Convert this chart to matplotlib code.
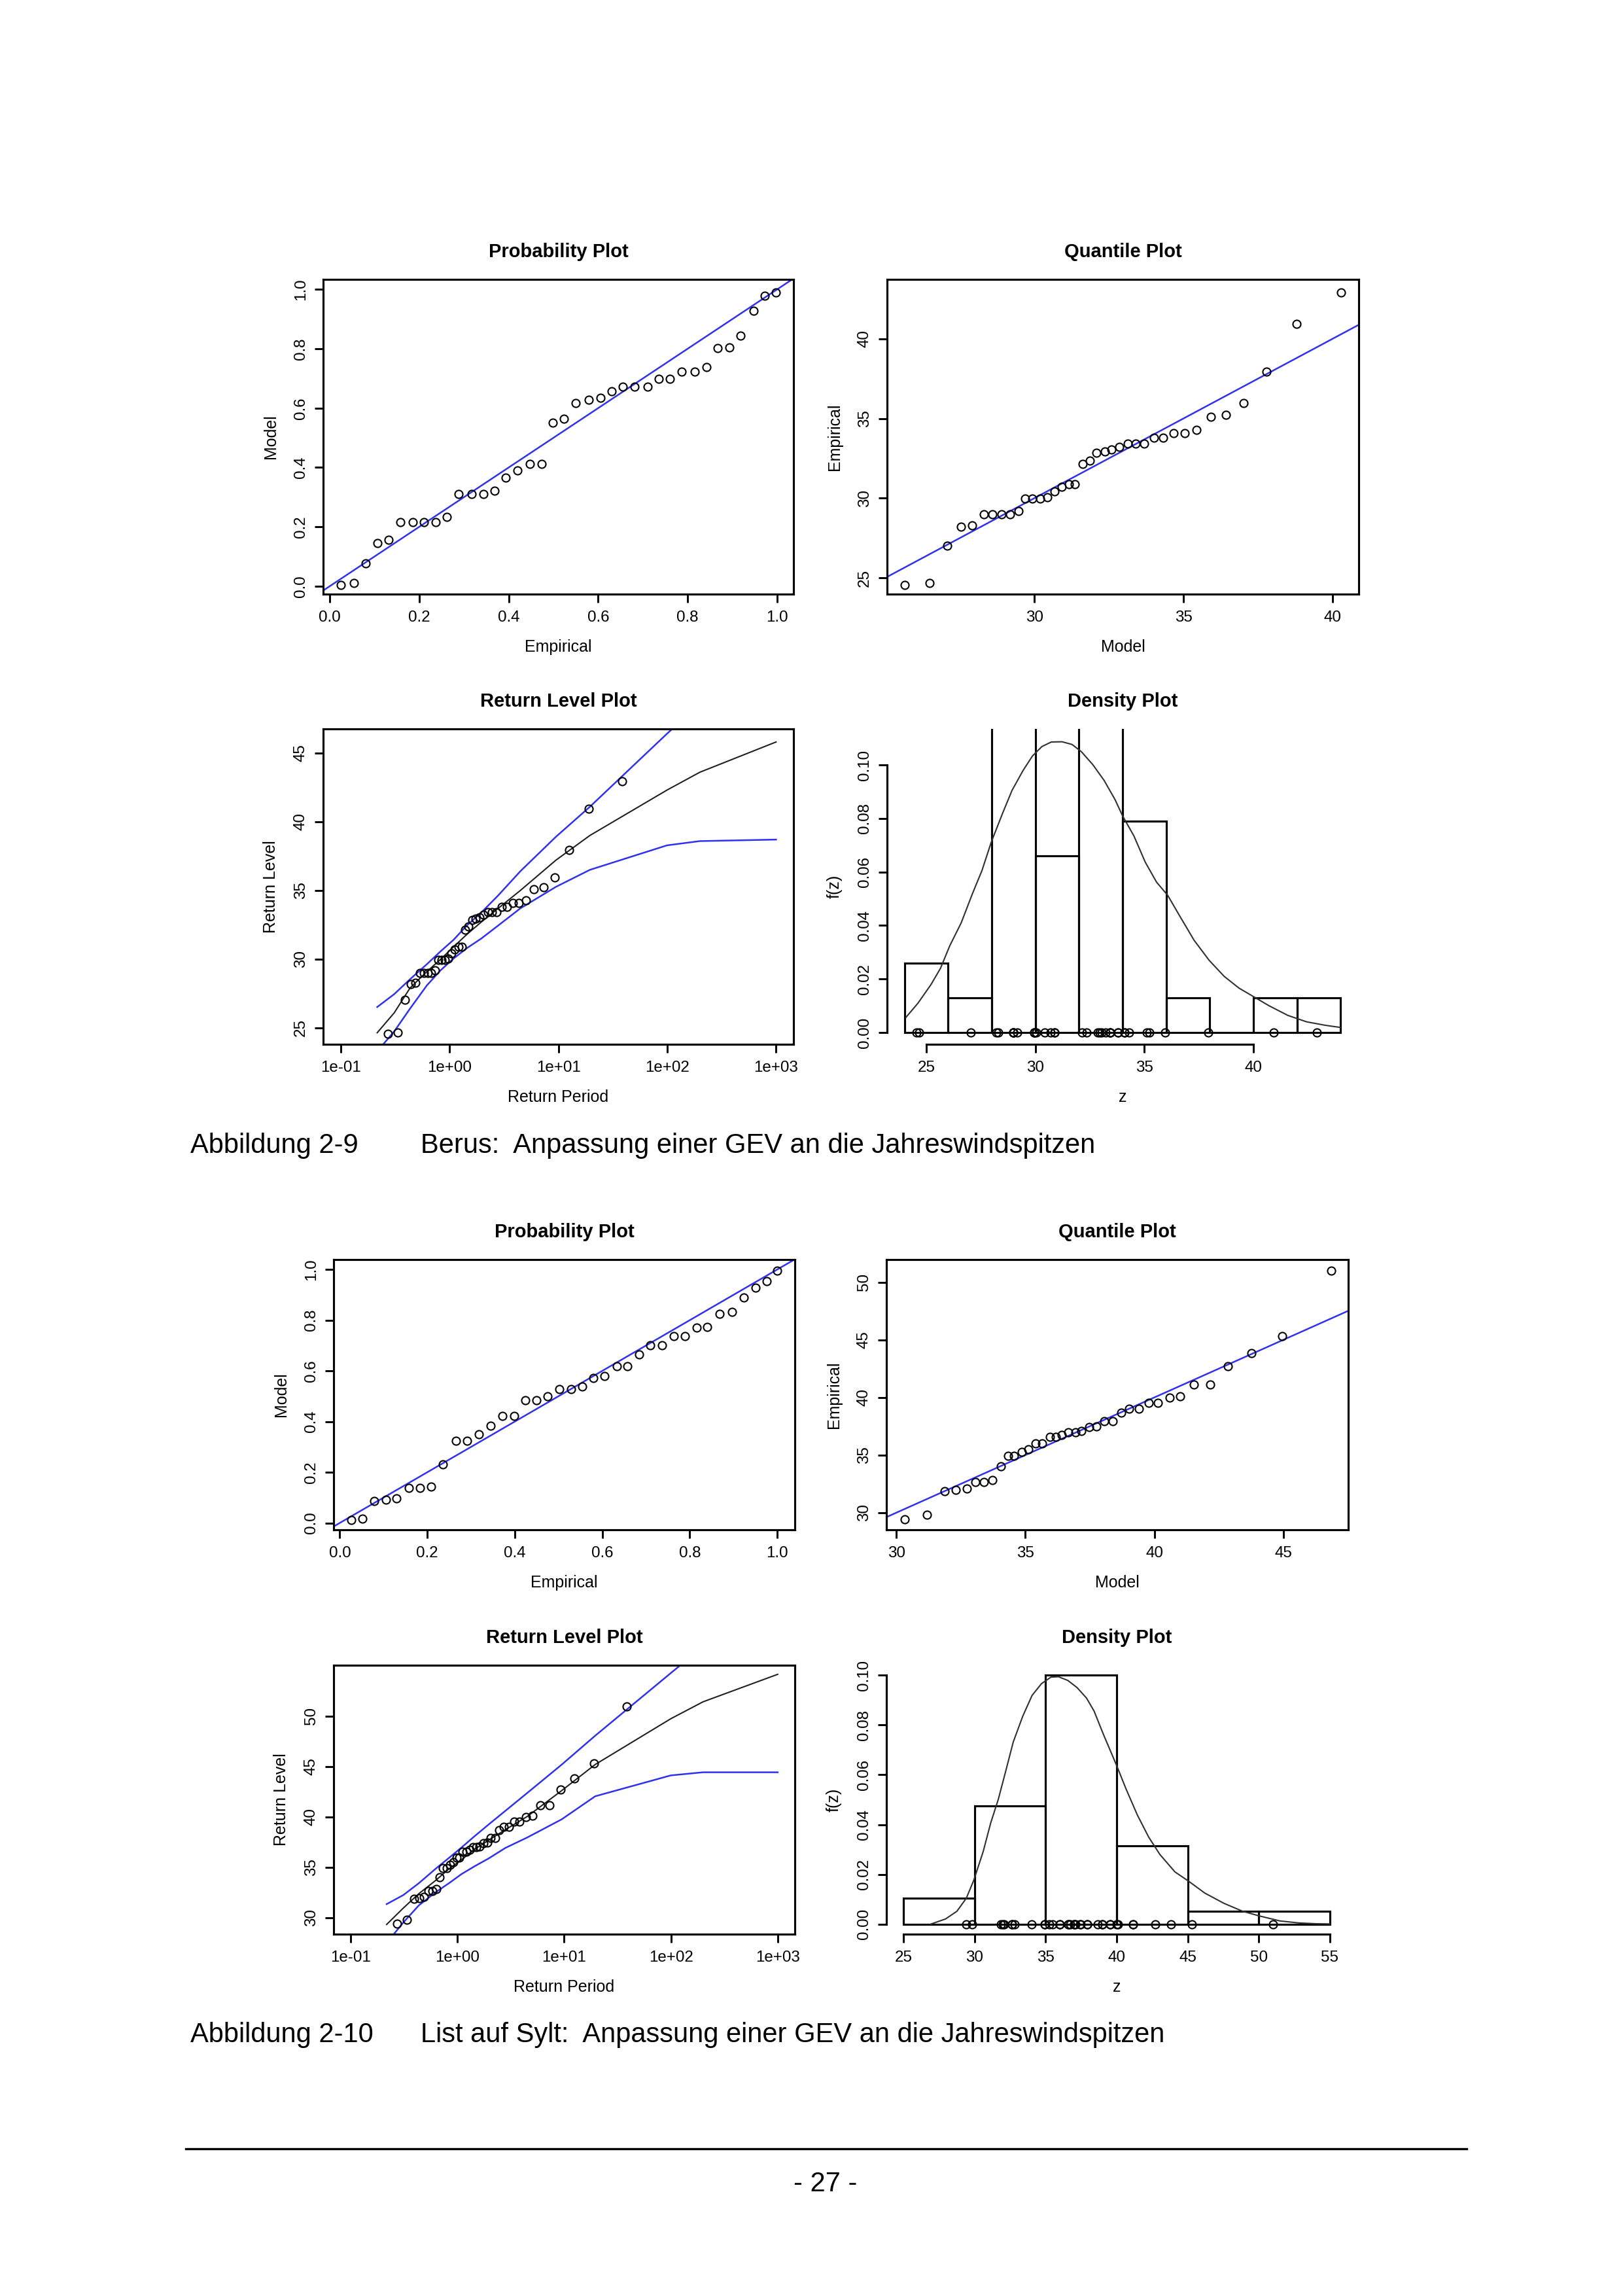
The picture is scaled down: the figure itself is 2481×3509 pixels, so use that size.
import numpy as np
import matplotlib
matplotlib.use('Agg')
import matplotlib.pyplot as plt
from matplotlib.lines import Line2D
from matplotlib.ticker import NullLocator

plt.rcParams['font.family'] = ['Liberation Sans', 'DejaVu Sans']

# --- Berus ---
berus_pp_emp = [0.024, 0.054, 0.080, 0.106, 0.131, 0.157, 0.185, 0.210, 0.236, 0.262, 0.288, 0.317, 0.343,
                0.368, 0.393, 0.419, 0.447, 0.474, 0.499, 0.524, 0.550, 0.579, 0.605, 0.630, 0.655, 0.682,
                0.710, 0.736, 0.761, 0.787, 0.816, 0.842, 0.867, 0.893, 0.919, 0.948, 0.973, 0.998]
berus_pp_mod = [0.004, 0.010, 0.077, 0.144, 0.156, 0.216, 0.216, 0.216, 0.216, 0.233, 0.311, 0.311, 0.311,
                0.322, 0.366, 0.390, 0.412, 0.412, 0.550, 0.565, 0.616, 0.629, 0.634, 0.656, 0.672, 0.672,
                0.672, 0.699, 0.699, 0.723, 0.723, 0.738, 0.802, 0.805, 0.844, 0.928, 0.979, 0.990]
berus_qq_mod = [25.65, 26.48, 27.07, 27.54, 27.92, 28.30, 28.59, 28.89, 29.18, 29.46, 29.68, 29.94, 30.19,
                30.44, 30.67, 30.91, 31.16, 31.36, 31.61, 31.87, 32.08, 32.36, 32.59, 32.86, 33.13, 33.40,
                33.69, 34.01, 34.33, 34.67, 35.04, 35.43, 35.93, 36.43, 37.02, 37.79, 38.79, 40.28]
berus_data = [24.55, 24.66, 27.03, 28.20, 28.29, 29.00, 29.00, 29.00, 29.00, 29.18, 29.96, 29.96, 29.96,
              30.04, 30.44, 30.71, 30.89, 30.89, 32.15, 32.36, 32.86, 32.95, 33.04, 33.22, 33.44, 33.44,
              33.44, 33.80, 33.80, 34.08, 34.08, 34.30, 35.10, 35.23, 35.95, 37.94, 40.94, 42.92]

# --- List auf Sylt ---
list_pp_emp = [0.026, 0.052, 0.079, 0.105, 0.130, 0.158, 0.184, 0.209, 0.235, 0.265, 0.291, 0.318, 0.345,
               0.371, 0.398, 0.424, 0.450, 0.475, 0.502, 0.528, 0.554, 0.579, 0.605, 0.633, 0.658, 0.684,
               0.710, 0.736, 0.763, 0.789, 0.815, 0.840, 0.868, 0.896, 0.924, 0.950, 0.976, 1.000]
list_pp_mod = [0.012, 0.017, 0.086, 0.091, 0.098, 0.138, 0.138, 0.143, 0.230, 0.325, 0.325, 0.351, 0.384,
               0.423, 0.423, 0.483, 0.483, 0.500, 0.528, 0.528, 0.539, 0.572, 0.579, 0.618, 0.618, 0.664,
               0.702, 0.702, 0.736, 0.736, 0.770, 0.774, 0.825, 0.832, 0.890, 0.928, 0.955, 0.995]
list_qq_mod = [30.31, 31.18, 31.86, 32.30, 32.74, 33.07, 33.39, 33.71, 34.05, 34.34, 34.56, 34.85, 35.11,
               35.39, 35.65, 35.94, 36.19, 36.42, 36.67, 36.93, 37.18, 37.47, 37.76, 38.05, 38.39, 38.71,
               39.03, 39.39, 39.77, 40.13, 40.60, 41.00, 41.54, 42.17, 42.85, 43.76, 44.97, 46.86]
list_data = [29.41, 29.82, 31.85, 31.97, 32.08, 32.64, 32.64, 32.82, 34.00, 34.93, 34.93, 35.27, 35.50,
             35.99, 35.99, 36.58, 36.58, 36.74, 37.00, 37.00, 37.08, 37.42, 37.49, 37.94, 37.94, 38.66,
             39.00, 39.00, 39.55, 39.55, 40.00, 40.11, 41.13, 41.13, 42.71, 43.84, 45.30, 50.99]

# empirical return periods of the sorted data (both stations n = 38)
emp_period = [0.273, 0.337, 0.390, 0.439, 0.487, 0.534, 0.582, 0.631, 0.682, 0.735, 0.790, 0.848, 0.910,
              0.976, 1.046, 1.122, 1.205, 1.294, 1.391, 1.497, 1.615, 1.745, 1.894, 2.058, 2.248, 2.466,
              2.718, 3.018, 3.378, 3.812, 4.351, 5.045, 5.975, 7.287, 9.24, 12.5, 19.0, 38.5]

# model return level curves
rl_period = [0.217, 0.311, 0.434, 0.621, 0.831, 1.091, 1.443, 1.958, 2.804, 4.481, 9.491, 19.5, 99.5, 199.5, 999.5]
berus_rl = [24.65, 26.1, 27.9, 29.1, 30.0, 30.9, 31.8, 32.7, 33.7, 35.0, 37.2, 39.0, 42.3, 43.6, 45.8]
berus_rl_up = [26.52, 27.46, 28.54, 29.64, 30.58, 31.41, 32.45, 33.39, 34.64, 36.4, 38.9, 41.09, 46.4, 48.6, 53.8]
berus_rl_lo = [23.3, 24.75, 26.4, 28.1, 29.2, 30.05, 30.8, 31.5, 32.45, 33.7, 35.26, 36.5, 38.28, 38.59, 38.7]
list_rl = [29.33, 30.96, 32.38, 33.68, 34.84, 35.75, 36.79, 37.69, 38.73, 40.03, 42.62, 45.2, 49.74, 51.42, 54.15]
list_rl_up = [31.35, 32.25, 33.42, 34.84, 35.93, 36.97, 38.08, 39.25, 40.6, 42.36, 45.2, 48.06, 54.27, 56.9, 62.3]
list_rl_lo = [27.5, 29.53, 31.22, 32.51, 33.42, 34.33, 35.1, 35.88, 36.92, 37.95, 39.77, 42.05, 44.12, 44.43, 44.43]

# histograms and fitted densities
berus_breaks = [24, 26, 28, 30, 32, 34, 36, 38, 40, 42, 44]
berus_dens = [0.026, 0.013, 0.145, 0.066, 0.132, 0.079, 0.013, 0.0, 0.013, 0.013]
berus_z = [24.07, 24.62, 25.22, 25.65, 26.08, 26.6, 27.12, 27.55, 27.98, 28.5, 28.93, 29.44, 29.87, 30.3,
           30.73, 31.22, 31.68, 32.11, 32.63, 33.15, 33.66, 34.0, 34.52, 35.04, 35.56, 36.07, 36.59, 37.28,
           37.97, 38.66, 39.34, 40.03, 40.72, 41.58, 42.44, 43.3, 43.99]
berus_fz = [0.0057, 0.011, 0.018, 0.024, 0.0325, 0.041, 0.052, 0.0605, 0.0712, 0.082, 0.0905, 0.098, 0.1034,
            0.1069, 0.1086, 0.1087, 0.1077, 0.105, 0.1002, 0.0943, 0.0870, 0.081, 0.0735, 0.0637, 0.0562,
            0.0513, 0.0440, 0.0345, 0.0270, 0.0210, 0.0166, 0.0133, 0.0100, 0.0064, 0.0040, 0.0027, 0.0019]
list_breaks = [25, 30, 35, 40, 45, 50, 55]
list_dens = [0.0105, 0.0474, 0.100, 0.0316, 0.0053, 0.0053]
list_z = [26.9, 27.96, 28.76, 29.42, 29.95, 30.61, 31.14, 31.67, 32.2, 32.72, 33.39, 34.05, 34.71, 35.37,
          35.9, 36.56, 37.22, 37.88, 38.41, 39.07, 40.0, 40.66, 41.46, 42.25, 43.04, 44.1, 45.08, 46.2,
          47.54, 48.86, 50.05, 51.5, 52.83, 54.0, 55.0]
list_fz = [0.0, 0.0021, 0.0052, 0.0104, 0.0177, 0.0292, 0.0407, 0.0501, 0.0616, 0.0731, 0.0835, 0.0919,
           0.0966, 0.0992, 0.0994, 0.0979, 0.095, 0.0908, 0.0856, 0.0762, 0.0637, 0.0543, 0.0438, 0.0350,
           0.0280, 0.0210, 0.0172, 0.0125, 0.0084, 0.0052, 0.0033, 0.0013, 0.0005, 0.0002, 0.0001]

W, H = 2481, 3509
fig = plt.figure(figsize=(W / 300, H / 300), dpi=300)
fig.patch.set_facecolor('white')

BLUE = '#3030f0'
TICK = 5.8
LAB = 6
TIT = 7


def make_ax(l, t, r, b):
    ax = fig.add_axes([l / W, 1 - b / H, (r - l) / W, (b - t) / H])
    for s in ax.spines.values():
        s.set_linewidth(0.75)
    ax.tick_params(length=3.1, width=0.7, labelsize=TICK)
    ax.tick_params(axis='x', pad=3)
    ax.tick_params(axis='y', pad=2.5)
    return ax


def texts(l, t, r, b, title, xlabel, ylabel):
    cx = (l + r) / 2
    fig.text(cx / W, 1 - (t - 42) / H, title, ha='center', va='center', fontsize=TIT, fontweight='bold')
    fig.text(cx / W, 1 - (b + 81) / H, xlabel, ha='center', va='center', fontsize=LAB)
    fig.text((l - 80) / W, 1 - ((t + b) / 2) / H, ylabel, ha='center', va='center',
             fontsize=LAB, rotation=90)


def yticks(ax, ticks, labels):
    ax.set_yticks(ticks, labels, rotation=90, va='center')


def circles(ax, x, y):
    ax.plot(x, y, 'o', mfc='none', mec='black', ms=2.9, mew=0.5, linestyle='none')


def prob_plot(box, emp, mod, xlim, ylim):
    ax = make_ax(*box)
    ax.plot([-1, 2], [-1, 2], color=BLUE, lw=0.6)
    circles(ax, emp, mod)
    ax.set_xlim(xlim)
    ax.set_ylim(ylim)
    t = [0.0, 0.2, 0.4, 0.6, 0.8, 1.0]
    lab = ['0.0', '0.2', '0.4', '0.6', '0.8', '1.0']
    ax.set_xticks(t, lab)
    yticks(ax, t, lab)
    texts(*box, 'Probability Plot', 'Empirical', 'Model')


def quant_plot(box, mod, emp, xlim, ylim, xt, yt):
    ax = make_ax(*box)
    ax.plot([0, 100], [0, 100], color=BLUE, lw=0.6)
    circles(ax, mod, emp)
    ax.set_xlim(xlim)
    ax.set_ylim(ylim)
    ax.set_xticks(xt, [str(v) for v in xt])
    yticks(ax, yt, [str(v) for v in yt])
    texts(*box, 'Quantile Plot', 'Model', 'Empirical')


def rl_plot(box, level, up, lo, data, ylim, yt):
    ax = make_ax(*box)
    ax.set_xscale('log')
    ax.plot(rl_period, level, color='#202020', lw=0.5)
    ax.plot(rl_period, up, color=BLUE, lw=0.6)
    ax.plot(rl_period, lo, color=BLUE, lw=0.6)
    circles(ax, emp_period, data)
    ax.set_xlim(10 ** -1.16, 10 ** 3.16)
    ax.set_ylim(ylim)
    ax.set_xticks([0.1, 1, 10, 100, 1000], ['1e-01', '1e+00', '1e+01', '1e+02', '1e+03'])
    ax.xaxis.set_minor_locator(NullLocator())
    yticks(ax, yt, [str(v) for v in yt])
    texts(*box, 'Return Level Plot', 'Return Period', 'Return Level')


def dens_plot(box, breaks, dens, z, fz, data, xlim, ylim, xt):
    ax = make_ax(*box)
    edges = np.array(breaks)
    ax.bar(edges[:-1], dens, width=np.diff(edges), align='edge', fill=False,
           edgecolor='black', linewidth=0.75)
    ax.plot(z, fz, color='#303030', lw=0.5)
    circles(ax, data, np.zeros(len(data)))
    ax.set_xlim(xlim)
    ax.set_ylim(ylim)
    ax.spines['top'].set_visible(False)
    ax.spines['right'].set_visible(False)
    ax.spines['left'].set_bounds(0, 0.10)
    ax.spines['bottom'].set_bounds(xt[0], xt[-1])
    ax.set_xticks(xt, [str(v) for v in xt])
    yt = [0.0, 0.02, 0.04, 0.06, 0.08, 0.10]
    yticks(ax, yt, ['0.00', '0.02', '0.04', '0.06', '0.08', '0.10'])
    texts(*box, 'Density Plot', 'z', 'f(z)')


# Abbildung 2-9: Berus
prob_plot((494, 427, 1213, 908), berus_pp_emp, berus_pp_mod, (-0.015, 1.037), (-0.027, 1.034))
quant_plot((1356, 427, 2077, 908), berus_qq_mod, berus_data, (25.06, 40.88), (23.98, 43.73),
           [30, 35, 40], [25, 30, 35, 40])
rl_plot((494, 1114, 1213, 1596), berus_rl, berus_rl_up, berus_rl_lo, berus_data, (23.81, 46.75),
        [25, 30, 35, 40, 45])
dens_plot((1356, 1114, 2076, 1596), berus_breaks, berus_dens, berus_z, berus_fz, berus_data,
          (23.2, 44.8), (-0.0044, 0.1135), [25, 30, 35, 40])

# Abbildung 2-10: List auf Sylt
prob_plot((510, 1925, 1215, 2338), list_pp_emp, list_pp_mod, (-0.014, 1.04), (-0.027, 1.039))
quant_plot((1355, 1925, 2061, 2338), list_qq_mod, list_data, (29.61, 47.52), (28.51, 51.97),
           [30, 35, 40, 45], [30, 35, 40, 45, 50])
rl_plot((510, 2545, 1215, 2956), list_rl, list_rl_up, list_rl_lo, list_data, (28.37, 55.05),
        [30, 35, 40, 45, 50])
dens_plot((1355, 2545, 2059, 2956), list_breaks, list_dens, list_z, list_fz, list_data,
          (23.8, 56.2), (-0.004, 0.104), [25, 30, 35, 40, 45, 50, 55])

# captions and page footer
fig.text(291 / W, 1 - 1751 / H, 'Abbildung 2-9', fontsize=10, va='center')
fig.text(643 / W, 1 - 1751 / H, 'Berus:  Anpassung einer GEV an die Jahreswindspitzen', fontsize=10, va='center')
fig.text(291 / W, 1 - 3110 / H, 'Abbildung 2-10', fontsize=10, va='center')
fig.text(643 / W, 1 - 3110 / H, 'List auf Sylt:  Anpassung einer GEV an die Jahreswindspitzen', fontsize=10,
         va='center')
fig.add_artist(Line2D([284 / W, 2242 / W], [1 - 3284 / H, 1 - 3284 / H], lw=0.8, color='black'))
fig.text(1262 / W, 1 - 3338 / H, '- 27 -', ha='center', va='center', fontsize=10)

fig.savefig('out.png', dpi=300, facecolor='white')
